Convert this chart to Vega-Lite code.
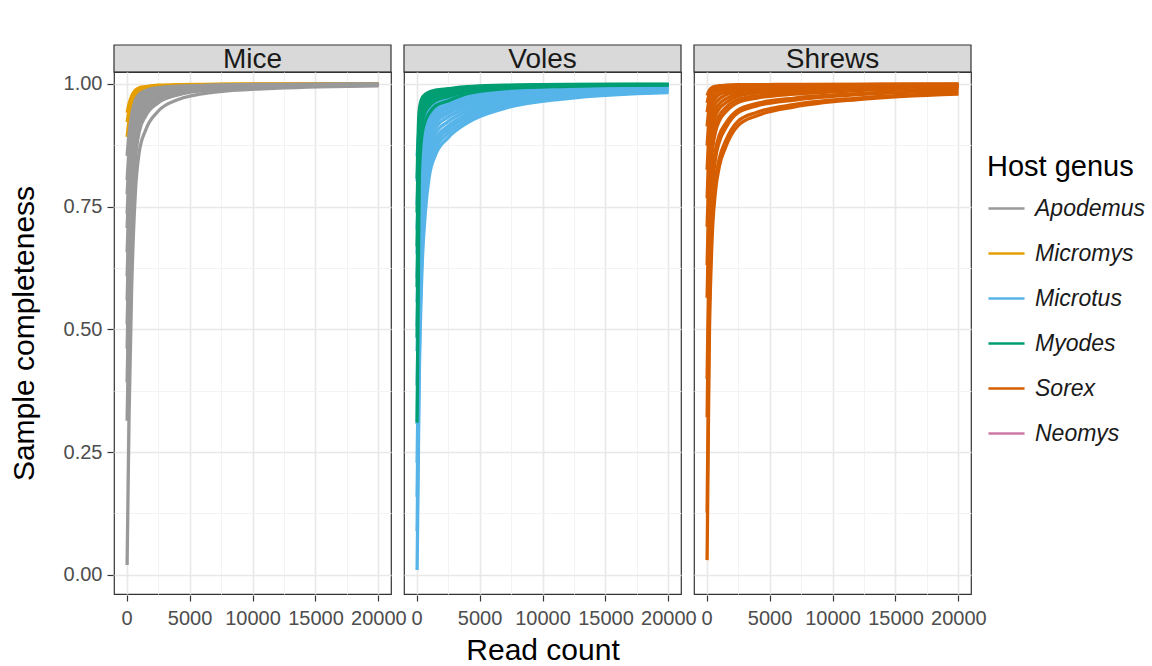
{
"$schema": "https://vega.github.io/schema/vega-lite/v6.json",
"background": "white",
"padding": {"left": 9, "top": 44, "right": 5, "bottom": 5},
"bounds": "flush",
"spacing": 27,
"config": {"font": "Liberation Sans", "view": {"stroke": "#333333", "strokeWidth": 1.2}},
"datasets": {
"strips": [{"panel": "Mice"}, {"panel": "Voles"}, {"panel": "Shrews"}],
"curves": [
{"panel":"Mice","genus":"Micromys","id":"M1","reads":40,"compl":0.892},{"panel":"Mice","genus":"Micromys","id":"M1","reads":200,"compl":0.926},{"panel":"Mice","genus":"Micromys","id":"M1","reads":400,"compl":0.954},{"panel":"Mice","genus":"Micromys","id":"M1","reads":700,"compl":0.976},{"panel":"Mice","genus":"Micromys","id":"M1","reads":1000,"compl":0.985},{"panel":"Mice","genus":"Micromys","id":"M1","reads":1500,"compl":0.990},{"panel":"Mice","genus":"Micromys","id":"M1","reads":2500,"compl":0.994},{"panel":"Mice","genus":"Micromys","id":"M1","reads":4000,"compl":0.996},{"panel":"Mice","genus":"Micromys","id":"M1","reads":7000,"compl":0.998},{"panel":"Mice","genus":"Micromys","id":"M1","reads":12000,"compl":0.999},{"panel":"Mice","genus":"Micromys","id":"M1","reads":20000,"compl":1.0},
{"panel":"Mice","genus":"Micromys","id":"M2","reads":40,"compl":0.922},{"panel":"Mice","genus":"Micromys","id":"M2","reads":200,"compl":0.946},{"panel":"Mice","genus":"Micromys","id":"M2","reads":400,"compl":0.966},{"panel":"Mice","genus":"Micromys","id":"M2","reads":700,"compl":0.982},{"panel":"Mice","genus":"Micromys","id":"M2","reads":1000,"compl":0.989},{"panel":"Mice","genus":"Micromys","id":"M2","reads":1500,"compl":0.992},{"panel":"Mice","genus":"Micromys","id":"M2","reads":2500,"compl":0.996},{"panel":"Mice","genus":"Micromys","id":"M2","reads":4000,"compl":0.997},{"panel":"Mice","genus":"Micromys","id":"M2","reads":7000,"compl":0.999},{"panel":"Mice","genus":"Micromys","id":"M2","reads":12000,"compl":0.999},{"panel":"Mice","genus":"Micromys","id":"M2","reads":20000,"compl":1.0},
{"panel":"Mice","genus":"Micromys","id":"M3","reads":40,"compl":0.941},{"panel":"Mice","genus":"Micromys","id":"M3","reads":200,"compl":0.960},{"panel":"Mice","genus":"Micromys","id":"M3","reads":400,"compl":0.975},{"panel":"Mice","genus":"Micromys","id":"M3","reads":700,"compl":0.987},{"panel":"Mice","genus":"Micromys","id":"M3","reads":1000,"compl":0.992},{"panel":"Mice","genus":"Micromys","id":"M3","reads":1500,"compl":0.994},{"panel":"Mice","genus":"Micromys","id":"M3","reads":2500,"compl":0.997},{"panel":"Mice","genus":"Micromys","id":"M3","reads":4000,"compl":0.998},{"panel":"Mice","genus":"Micromys","id":"M3","reads":7000,"compl":0.999},{"panel":"Mice","genus":"Micromys","id":"M3","reads":12000,"compl":1.0},{"panel":"Mice","genus":"Micromys","id":"M3","reads":20000,"compl":1.0},
{"panel":"Mice","genus":"Apodemus","id":"A1","reads":40,"compl":0.02},{"panel":"Mice","genus":"Apodemus","id":"A1","reads":200,"compl":0.33},{"panel":"Mice","genus":"Apodemus","id":"A1","reads":400,"compl":0.58},{"panel":"Mice","genus":"Apodemus","id":"A1","reads":700,"compl":0.78},{"panel":"Mice","genus":"Apodemus","id":"A1","reads":1000,"compl":0.86},{"panel":"Mice","genus":"Apodemus","id":"A1","reads":1500,"compl":0.905},{"panel":"Mice","genus":"Apodemus","id":"A1","reads":2500,"compl":0.944},{"panel":"Mice","genus":"Apodemus","id":"A1","reads":4000,"compl":0.967},{"panel":"Mice","genus":"Apodemus","id":"A1","reads":7000,"compl":0.983},{"panel":"Mice","genus":"Apodemus","id":"A1","reads":12000,"compl":0.991},{"panel":"Mice","genus":"Apodemus","id":"A1","reads":20000,"compl":0.996},
{"panel":"Mice","genus":"Apodemus","id":"A2","reads":40,"compl":0.314},{"panel":"Mice","genus":"Apodemus","id":"A2","reads":200,"compl":0.531},{"panel":"Mice","genus":"Apodemus","id":"A2","reads":400,"compl":0.706},{"panel":"Mice","genus":"Apodemus","id":"A2","reads":700,"compl":0.846},{"panel":"Mice","genus":"Apodemus","id":"A2","reads":1000,"compl":0.902},{"panel":"Mice","genus":"Apodemus","id":"A2","reads":1500,"compl":0.934},{"panel":"Mice","genus":"Apodemus","id":"A2","reads":2500,"compl":0.961},{"panel":"Mice","genus":"Apodemus","id":"A2","reads":4000,"compl":0.977},{"panel":"Mice","genus":"Apodemus","id":"A2","reads":7000,"compl":0.988},{"panel":"Mice","genus":"Apodemus","id":"A2","reads":12000,"compl":0.994},{"panel":"Mice","genus":"Apodemus","id":"A2","reads":20000,"compl":0.997},
{"panel":"Mice","genus":"Apodemus","id":"A9","reads":40,"compl":0.392},{"panel":"Mice","genus":"Apodemus","id":"A9","reads":200,"compl":0.585},{"panel":"Mice","genus":"Apodemus","id":"A9","reads":400,"compl":0.740},{"panel":"Mice","genus":"Apodemus","id":"A9","reads":700,"compl":0.864},{"panel":"Mice","genus":"Apodemus","id":"A9","reads":1000,"compl":0.913},{"panel":"Mice","genus":"Apodemus","id":"A9","reads":1500,"compl":0.941},{"panel":"Mice","genus":"Apodemus","id":"A9","reads":2500,"compl":0.965},{"panel":"Mice","genus":"Apodemus","id":"A9","reads":4000,"compl":0.980},{"panel":"Mice","genus":"Apodemus","id":"A9","reads":7000,"compl":0.989},{"panel":"Mice","genus":"Apodemus","id":"A9","reads":12000,"compl":0.994},{"panel":"Mice","genus":"Apodemus","id":"A9","reads":20000,"compl":0.998},
{"panel":"Mice","genus":"Apodemus","id":"A3","reads":40,"compl":0.461},{"panel":"Mice","genus":"Apodemus","id":"A3","reads":200,"compl":0.632},{"panel":"Mice","genus":"Apodemus","id":"A3","reads":400,"compl":0.769},{"panel":"Mice","genus":"Apodemus","id":"A3","reads":700,"compl":0.879},{"panel":"Mice","genus":"Apodemus","id":"A3","reads":1000,"compl":0.923},{"panel":"Mice","genus":"Apodemus","id":"A3","reads":1500,"compl":0.948},{"panel":"Mice","genus":"Apodemus","id":"A3","reads":2500,"compl":0.969},{"panel":"Mice","genus":"Apodemus","id":"A3","reads":4000,"compl":0.982},{"panel":"Mice","genus":"Apodemus","id":"A3","reads":7000,"compl":0.991},{"panel":"Mice","genus":"Apodemus","id":"A3","reads":12000,"compl":0.995},{"panel":"Mice","genus":"Apodemus","id":"A3","reads":20000,"compl":0.998},
{"panel":"Mice","genus":"Apodemus","id":"A11","reads":40,"compl":0.51},{"panel":"Mice","genus":"Apodemus","id":"A11","reads":200,"compl":0.665},{"panel":"Mice","genus":"Apodemus","id":"A11","reads":400,"compl":0.79},{"panel":"Mice","genus":"Apodemus","id":"A11","reads":700,"compl":0.89},{"panel":"Mice","genus":"Apodemus","id":"A11","reads":1000,"compl":0.93},{"panel":"Mice","genus":"Apodemus","id":"A11","reads":1500,"compl":0.953},{"panel":"Mice","genus":"Apodemus","id":"A11","reads":2500,"compl":0.972},{"panel":"Mice","genus":"Apodemus","id":"A11","reads":4000,"compl":0.984},{"panel":"Mice","genus":"Apodemus","id":"A11","reads":7000,"compl":0.992},{"panel":"Mice","genus":"Apodemus","id":"A11","reads":12000,"compl":0.996},{"panel":"Mice","genus":"Apodemus","id":"A11","reads":20000,"compl":0.998},
{"panel":"Mice","genus":"Apodemus","id":"A4","reads":40,"compl":0.559},{"panel":"Mice","genus":"Apodemus","id":"A4","reads":200,"compl":0.699},{"panel":"Mice","genus":"Apodemus","id":"A4","reads":400,"compl":0.811},{"panel":"Mice","genus":"Apodemus","id":"A4","reads":700,"compl":0.901},{"panel":"Mice","genus":"Apodemus","id":"A4","reads":1000,"compl":0.937},{"panel":"Mice","genus":"Apodemus","id":"A4","reads":1500,"compl":0.957},{"panel":"Mice","genus":"Apodemus","id":"A4","reads":2500,"compl":0.975},{"panel":"Mice","genus":"Apodemus","id":"A4","reads":4000,"compl":0.985},{"panel":"Mice","genus":"Apodemus","id":"A4","reads":7000,"compl":0.992},{"panel":"Mice","genus":"Apodemus","id":"A4","reads":12000,"compl":0.996},{"panel":"Mice","genus":"Apodemus","id":"A4","reads":20000,"compl":0.998},
{"panel":"Mice","genus":"Apodemus","id":"A10","reads":40,"compl":0.608},{"panel":"Mice","genus":"Apodemus","id":"A10","reads":200,"compl":0.732},{"panel":"Mice","genus":"Apodemus","id":"A10","reads":400,"compl":0.832},{"panel":"Mice","genus":"Apodemus","id":"A10","reads":700,"compl":0.912},{"panel":"Mice","genus":"Apodemus","id":"A10","reads":1000,"compl":0.944},{"panel":"Mice","genus":"Apodemus","id":"A10","reads":1500,"compl":0.962},{"panel":"Mice","genus":"Apodemus","id":"A10","reads":2500,"compl":0.978},{"panel":"Mice","genus":"Apodemus","id":"A10","reads":4000,"compl":0.987},{"panel":"Mice","genus":"Apodemus","id":"A10","reads":7000,"compl":0.993},{"panel":"Mice","genus":"Apodemus","id":"A10","reads":12000,"compl":0.996},{"panel":"Mice","genus":"Apodemus","id":"A10","reads":20000,"compl":0.998},
{"panel":"Mice","genus":"Apodemus","id":"A5","reads":40,"compl":0.657},{"panel":"Mice","genus":"Apodemus","id":"A5","reads":200,"compl":0.766},{"panel":"Mice","genus":"Apodemus","id":"A5","reads":400,"compl":0.853},{"panel":"Mice","genus":"Apodemus","id":"A5","reads":700,"compl":0.923},{"panel":"Mice","genus":"Apodemus","id":"A5","reads":1000,"compl":0.951},{"panel":"Mice","genus":"Apodemus","id":"A5","reads":1500,"compl":0.967},{"panel":"Mice","genus":"Apodemus","id":"A5","reads":2500,"compl":0.980},{"panel":"Mice","genus":"Apodemus","id":"A5","reads":4000,"compl":0.988},{"panel":"Mice","genus":"Apodemus","id":"A5","reads":7000,"compl":0.994},{"panel":"Mice","genus":"Apodemus","id":"A5","reads":12000,"compl":0.997},{"panel":"Mice","genus":"Apodemus","id":"A5","reads":20000,"compl":0.999},
{"panel":"Mice","genus":"Apodemus","id":"A13","reads":40,"compl":0.706},{"panel":"Mice","genus":"Apodemus","id":"A13","reads":200,"compl":0.799},{"panel":"Mice","genus":"Apodemus","id":"A13","reads":400,"compl":0.874},{"panel":"Mice","genus":"Apodemus","id":"A13","reads":700,"compl":0.934},{"panel":"Mice","genus":"Apodemus","id":"A13","reads":1000,"compl":0.958},{"panel":"Mice","genus":"Apodemus","id":"A13","reads":1500,"compl":0.972},{"panel":"Mice","genus":"Apodemus","id":"A13","reads":2500,"compl":0.983},{"panel":"Mice","genus":"Apodemus","id":"A13","reads":4000,"compl":0.990},{"panel":"Mice","genus":"Apodemus","id":"A13","reads":7000,"compl":0.995},{"panel":"Mice","genus":"Apodemus","id":"A13","reads":12000,"compl":0.997},{"panel":"Mice","genus":"Apodemus","id":"A13","reads":20000,"compl":0.999},
{"panel":"Mice","genus":"Apodemus","id":"A6","reads":40,"compl":0.735},{"panel":"Mice","genus":"Apodemus","id":"A6","reads":200,"compl":0.819},{"panel":"Mice","genus":"Apodemus","id":"A6","reads":400,"compl":0.887},{"panel":"Mice","genus":"Apodemus","id":"A6","reads":700,"compl":0.941},{"panel":"Mice","genus":"Apodemus","id":"A6","reads":1000,"compl":0.962},{"panel":"Mice","genus":"Apodemus","id":"A6","reads":1500,"compl":0.974},{"panel":"Mice","genus":"Apodemus","id":"A6","reads":2500,"compl":0.985},{"panel":"Mice","genus":"Apodemus","id":"A6","reads":4000,"compl":0.991},{"panel":"Mice","genus":"Apodemus","id":"A6","reads":7000,"compl":0.995},{"panel":"Mice","genus":"Apodemus","id":"A6","reads":12000,"compl":0.998},{"panel":"Mice","genus":"Apodemus","id":"A6","reads":20000,"compl":0.999},
{"panel":"Mice","genus":"Apodemus","id":"A12","reads":40,"compl":0.775},{"panel":"Mice","genus":"Apodemus","id":"A12","reads":200,"compl":0.846},{"panel":"Mice","genus":"Apodemus","id":"A12","reads":400,"compl":0.903},{"panel":"Mice","genus":"Apodemus","id":"A12","reads":700,"compl":0.949},{"panel":"Mice","genus":"Apodemus","id":"A12","reads":1000,"compl":0.968},{"panel":"Mice","genus":"Apodemus","id":"A12","reads":1500,"compl":0.978},{"panel":"Mice","genus":"Apodemus","id":"A12","reads":2500,"compl":0.987},{"panel":"Mice","genus":"Apodemus","id":"A12","reads":4000,"compl":0.992},{"panel":"Mice","genus":"Apodemus","id":"A12","reads":7000,"compl":0.996},{"panel":"Mice","genus":"Apodemus","id":"A12","reads":12000,"compl":0.998},{"panel":"Mice","genus":"Apodemus","id":"A12","reads":20000,"compl":0.999},
{"panel":"Mice","genus":"Apodemus","id":"A7","reads":40,"compl":0.804},{"panel":"Mice","genus":"Apodemus","id":"A7","reads":200,"compl":0.866},{"panel":"Mice","genus":"Apodemus","id":"A7","reads":400,"compl":0.916},{"panel":"Mice","genus":"Apodemus","id":"A7","reads":700,"compl":0.956},{"panel":"Mice","genus":"Apodemus","id":"A7","reads":1000,"compl":0.972},{"panel":"Mice","genus":"Apodemus","id":"A7","reads":1500,"compl":0.981},{"panel":"Mice","genus":"Apodemus","id":"A7","reads":2500,"compl":0.989},{"panel":"Mice","genus":"Apodemus","id":"A7","reads":4000,"compl":0.993},{"panel":"Mice","genus":"Apodemus","id":"A7","reads":7000,"compl":0.997},{"panel":"Mice","genus":"Apodemus","id":"A7","reads":12000,"compl":0.998},{"panel":"Mice","genus":"Apodemus","id":"A7","reads":20000,"compl":0.999},
{"panel":"Mice","genus":"Apodemus","id":"A8","reads":40,"compl":0.853},{"panel":"Mice","genus":"Apodemus","id":"A8","reads":200,"compl":0.900},{"panel":"Mice","genus":"Apodemus","id":"A8","reads":400,"compl":0.937},{"panel":"Mice","genus":"Apodemus","id":"A8","reads":700,"compl":0.967},{"panel":"Mice","genus":"Apodemus","id":"A8","reads":1000,"compl":0.979},{"panel":"Mice","genus":"Apodemus","id":"A8","reads":1500,"compl":0.986},{"panel":"Mice","genus":"Apodemus","id":"A8","reads":2500,"compl":0.992},{"panel":"Mice","genus":"Apodemus","id":"A8","reads":4000,"compl":0.995},{"panel":"Mice","genus":"Apodemus","id":"A8","reads":7000,"compl":0.997},{"panel":"Mice","genus":"Apodemus","id":"A8","reads":12000,"compl":0.999},{"panel":"Mice","genus":"Apodemus","id":"A8","reads":20000,"compl":0.999},
{"panel":"Voles","genus":"Microtus","id":"U1","reads":40,"compl":0.01},{"panel":"Voles","genus":"Microtus","id":"U1","reads":200,"compl":0.38},{"panel":"Voles","genus":"Microtus","id":"U1","reads":400,"compl":0.60},{"panel":"Voles","genus":"Microtus","id":"U1","reads":700,"compl":0.74},{"panel":"Voles","genus":"Microtus","id":"U1","reads":1000,"compl":0.81},{"panel":"Voles","genus":"Microtus","id":"U1","reads":1500,"compl":0.855},{"panel":"Voles","genus":"Microtus","id":"U1","reads":2500,"compl":0.89},{"panel":"Voles","genus":"Microtus","id":"U1","reads":4000,"compl":0.92},{"panel":"Voles","genus":"Microtus","id":"U1","reads":7000,"compl":0.95},{"panel":"Voles","genus":"Microtus","id":"U1","reads":12000,"compl":0.97},{"panel":"Voles","genus":"Microtus","id":"U1","reads":20000,"compl":0.982},
{"panel":"Voles","genus":"Microtus","id":"U9","reads":40,"compl":0.089},{"panel":"Voles","genus":"Microtus","id":"U9","reads":200,"compl":0.430},{"panel":"Voles","genus":"Microtus","id":"U9","reads":400,"compl":0.632},{"panel":"Voles","genus":"Microtus","id":"U9","reads":700,"compl":0.761},{"panel":"Voles","genus":"Microtus","id":"U9","reads":1000,"compl":0.825},{"panel":"Voles","genus":"Microtus","id":"U9","reads":1500,"compl":0.867},{"panel":"Voles","genus":"Microtus","id":"U9","reads":2500,"compl":0.899},{"panel":"Voles","genus":"Microtus","id":"U9","reads":4000,"compl":0.926},{"panel":"Voles","genus":"Microtus","id":"U9","reads":7000,"compl":0.954},{"panel":"Voles","genus":"Microtus","id":"U9","reads":12000,"compl":0.972},{"panel":"Voles","genus":"Microtus","id":"U9","reads":20000,"compl":0.983},
{"panel":"Voles","genus":"Microtus","id":"U2","reads":40,"compl":0.159},{"panel":"Voles","genus":"Microtus","id":"U2","reads":200,"compl":0.473},{"panel":"Voles","genus":"Microtus","id":"U2","reads":400,"compl":0.66},{"panel":"Voles","genus":"Microtus","id":"U2","reads":700,"compl":0.779},{"panel":"Voles","genus":"Microtus","id":"U2","reads":1000,"compl":0.839},{"panel":"Voles","genus":"Microtus","id":"U2","reads":1500,"compl":0.877},{"panel":"Voles","genus":"Microtus","id":"U2","reads":2500,"compl":0.907},{"panel":"Voles","genus":"Microtus","id":"U2","reads":4000,"compl":0.932},{"panel":"Voles","genus":"Microtus","id":"U2","reads":7000,"compl":0.958},{"panel":"Voles","genus":"Microtus","id":"U2","reads":12000,"compl":0.975},{"panel":"Voles","genus":"Microtus","id":"U2","reads":20000,"compl":0.985},
{"panel":"Voles","genus":"Microtus","id":"U11","reads":40,"compl":0.228},{"panel":"Voles","genus":"Microtus","id":"U11","reads":200,"compl":0.516},{"panel":"Voles","genus":"Microtus","id":"U11","reads":400,"compl":0.688},{"panel":"Voles","genus":"Microtus","id":"U11","reads":700,"compl":0.797},{"panel":"Voles","genus":"Microtus","id":"U11","reads":1000,"compl":0.852},{"panel":"Voles","genus":"Microtus","id":"U11","reads":1500,"compl":0.887},{"panel":"Voles","genus":"Microtus","id":"U11","reads":2500,"compl":0.914},{"panel":"Voles","genus":"Microtus","id":"U11","reads":4000,"compl":0.938},{"panel":"Voles","genus":"Microtus","id":"U11","reads":7000,"compl":0.961},{"panel":"Voles","genus":"Microtus","id":"U11","reads":12000,"compl":0.977},{"panel":"Voles","genus":"Microtus","id":"U11","reads":20000,"compl":0.986},
{"panel":"Voles","genus":"Microtus","id":"U3","reads":40,"compl":0.307},{"panel":"Voles","genus":"Microtus","id":"U3","reads":200,"compl":0.566},{"panel":"Voles","genus":"Microtus","id":"U3","reads":400,"compl":0.72},{"panel":"Voles","genus":"Microtus","id":"U3","reads":700,"compl":0.818},{"panel":"Voles","genus":"Microtus","id":"U3","reads":1000,"compl":0.867},{"panel":"Voles","genus":"Microtus","id":"U3","reads":1500,"compl":0.899},{"panel":"Voles","genus":"Microtus","id":"U3","reads":2500,"compl":0.923},{"panel":"Voles","genus":"Microtus","id":"U3","reads":4000,"compl":0.944},{"panel":"Voles","genus":"Microtus","id":"U3","reads":7000,"compl":0.965},{"panel":"Voles","genus":"Microtus","id":"U3","reads":12000,"compl":0.979},{"panel":"Voles","genus":"Microtus","id":"U3","reads":20000,"compl":0.987},
{"panel":"Voles","genus":"Microtus","id":"U10","reads":40,"compl":0.386},{"panel":"Voles","genus":"Microtus","id":"U10","reads":200,"compl":0.616},{"panel":"Voles","genus":"Microtus","id":"U10","reads":400,"compl":0.752},{"panel":"Voles","genus":"Microtus","id":"U10","reads":700,"compl":0.839},{"panel":"Voles","genus":"Microtus","id":"U10","reads":1000,"compl":0.882},{"panel":"Voles","genus":"Microtus","id":"U10","reads":1500,"compl":0.910},{"panel":"Voles","genus":"Microtus","id":"U10","reads":2500,"compl":0.932},{"panel":"Voles","genus":"Microtus","id":"U10","reads":4000,"compl":0.950},{"panel":"Voles","genus":"Microtus","id":"U10","reads":7000,"compl":0.969},{"panel":"Voles","genus":"Microtus","id":"U10","reads":12000,"compl":0.981},{"panel":"Voles","genus":"Microtus","id":"U10","reads":20000,"compl":0.989},
{"panel":"Voles","genus":"Microtus","id":"U4","reads":40,"compl":0.456},{"panel":"Voles","genus":"Microtus","id":"U4","reads":200,"compl":0.659},{"panel":"Voles","genus":"Microtus","id":"U4","reads":400,"compl":0.78},{"panel":"Voles","genus":"Microtus","id":"U4","reads":700,"compl":0.857},{"panel":"Voles","genus":"Microtus","id":"U4","reads":1000,"compl":0.896},{"panel":"Voles","genus":"Microtus","id":"U4","reads":1500,"compl":0.920},{"panel":"Voles","genus":"Microtus","id":"U4","reads":2500,"compl":0.940},{"panel":"Voles","genus":"Microtus","id":"U4","reads":4000,"compl":0.956},{"panel":"Voles","genus":"Microtus","id":"U4","reads":7000,"compl":0.973},{"panel":"Voles","genus":"Microtus","id":"U4","reads":12000,"compl":0.984},{"panel":"Voles","genus":"Microtus","id":"U4","reads":20000,"compl":0.990},
{"panel":"Voles","genus":"Microtus","id":"U12","reads":40,"compl":0.505},{"panel":"Voles","genus":"Microtus","id":"U12","reads":200,"compl":0.69},{"panel":"Voles","genus":"Microtus","id":"U12","reads":400,"compl":0.80},{"panel":"Voles","genus":"Microtus","id":"U12","reads":700,"compl":0.87},{"panel":"Voles","genus":"Microtus","id":"U12","reads":1000,"compl":0.905},{"panel":"Voles","genus":"Microtus","id":"U12","reads":1500,"compl":0.928},{"panel":"Voles","genus":"Microtus","id":"U12","reads":2500,"compl":0.945},{"panel":"Voles","genus":"Microtus","id":"U12","reads":4000,"compl":0.96},{"panel":"Voles","genus":"Microtus","id":"U12","reads":7000,"compl":0.975},{"panel":"Voles","genus":"Microtus","id":"U12","reads":12000,"compl":0.985},{"panel":"Voles","genus":"Microtus","id":"U12","reads":20000,"compl":0.991},
{"panel":"Voles","genus":"Microtus","id":"U5","reads":40,"compl":0.555},{"panel":"Voles","genus":"Microtus","id":"U5","reads":200,"compl":0.721},{"panel":"Voles","genus":"Microtus","id":"U5","reads":400,"compl":0.82},{"panel":"Voles","genus":"Microtus","id":"U5","reads":700,"compl":0.883},{"panel":"Voles","genus":"Microtus","id":"U5","reads":1000,"compl":0.915},{"panel":"Voles","genus":"Microtus","id":"U5","reads":1500,"compl":0.935},{"panel":"Voles","genus":"Microtus","id":"U5","reads":2500,"compl":0.951},{"panel":"Voles","genus":"Microtus","id":"U5","reads":4000,"compl":0.964},{"panel":"Voles","genus":"Microtus","id":"U5","reads":7000,"compl":0.978},{"panel":"Voles","genus":"Microtus","id":"U5","reads":12000,"compl":0.987},{"panel":"Voles","genus":"Microtus","id":"U5","reads":20000,"compl":0.992},
{"panel":"Voles","genus":"Microtus","id":"U13","reads":40,"compl":0.604},{"panel":"Voles","genus":"Microtus","id":"U13","reads":200,"compl":0.752},{"panel":"Voles","genus":"Microtus","id":"U13","reads":400,"compl":0.84},{"panel":"Voles","genus":"Microtus","id":"U13","reads":700,"compl":0.896},{"panel":"Voles","genus":"Microtus","id":"U13","reads":1000,"compl":0.924},{"panel":"Voles","genus":"Microtus","id":"U13","reads":1500,"compl":0.942},{"panel":"Voles","genus":"Microtus","id":"U13","reads":2500,"compl":0.956},{"panel":"Voles","genus":"Microtus","id":"U13","reads":4000,"compl":0.968},{"panel":"Voles","genus":"Microtus","id":"U13","reads":7000,"compl":0.98},{"panel":"Voles","genus":"Microtus","id":"U13","reads":12000,"compl":0.988},{"panel":"Voles","genus":"Microtus","id":"U13","reads":20000,"compl":0.993},
{"panel":"Voles","genus":"Microtus","id":"U6","reads":40,"compl":0.654},{"panel":"Voles","genus":"Microtus","id":"U6","reads":200,"compl":0.783},{"panel":"Voles","genus":"Microtus","id":"U6","reads":400,"compl":0.86},{"panel":"Voles","genus":"Microtus","id":"U6","reads":700,"compl":0.909},{"panel":"Voles","genus":"Microtus","id":"U6","reads":1000,"compl":0.934},{"panel":"Voles","genus":"Microtus","id":"U6","reads":1500,"compl":0.949},{"panel":"Voles","genus":"Microtus","id":"U6","reads":2500,"compl":0.962},{"panel":"Voles","genus":"Microtus","id":"U6","reads":4000,"compl":0.972},{"panel":"Voles","genus":"Microtus","id":"U6","reads":7000,"compl":0.983},{"panel":"Voles","genus":"Microtus","id":"U6","reads":12000,"compl":0.990},{"panel":"Voles","genus":"Microtus","id":"U6","reads":20000,"compl":0.994},
{"panel":"Voles","genus":"Microtus","id":"U14","reads":40,"compl":0.703},{"panel":"Voles","genus":"Microtus","id":"U14","reads":200,"compl":0.814},{"panel":"Voles","genus":"Microtus","id":"U14","reads":400,"compl":0.88},{"panel":"Voles","genus":"Microtus","id":"U14","reads":700,"compl":0.922},{"panel":"Voles","genus":"Microtus","id":"U14","reads":1000,"compl":0.943},{"panel":"Voles","genus":"Microtus","id":"U14","reads":1500,"compl":0.957},{"panel":"Voles","genus":"Microtus","id":"U14","reads":2500,"compl":0.967},{"panel":"Voles","genus":"Microtus","id":"U14","reads":4000,"compl":0.976},{"panel":"Voles","genus":"Microtus","id":"U14","reads":7000,"compl":0.985},{"panel":"Voles","genus":"Microtus","id":"U14","reads":12000,"compl":0.991},{"panel":"Voles","genus":"Microtus","id":"U14","reads":20000,"compl":0.995},
{"panel":"Voles","genus":"Microtus","id":"U7","reads":40,"compl":0.753},{"panel":"Voles","genus":"Microtus","id":"U7","reads":200,"compl":0.845},{"panel":"Voles","genus":"Microtus","id":"U7","reads":400,"compl":0.90},{"panel":"Voles","genus":"Microtus","id":"U7","reads":700,"compl":0.935},{"panel":"Voles","genus":"Microtus","id":"U7","reads":1000,"compl":0.953},{"panel":"Voles","genus":"Microtus","id":"U7","reads":1500,"compl":0.964},{"panel":"Voles","genus":"Microtus","id":"U7","reads":2500,"compl":0.973},{"panel":"Voles","genus":"Microtus","id":"U7","reads":4000,"compl":0.98},{"panel":"Voles","genus":"Microtus","id":"U7","reads":7000,"compl":0.988},{"panel":"Voles","genus":"Microtus","id":"U7","reads":12000,"compl":0.993},{"panel":"Voles","genus":"Microtus","id":"U7","reads":20000,"compl":0.996},
{"panel":"Voles","genus":"Microtus","id":"U15","reads":40,"compl":0.802},{"panel":"Voles","genus":"Microtus","id":"U15","reads":200,"compl":0.876},{"panel":"Voles","genus":"Microtus","id":"U15","reads":400,"compl":0.92},{"panel":"Voles","genus":"Microtus","id":"U15","reads":700,"compl":0.948},{"panel":"Voles","genus":"Microtus","id":"U15","reads":1000,"compl":0.962},{"panel":"Voles","genus":"Microtus","id":"U15","reads":1500,"compl":0.971},{"panel":"Voles","genus":"Microtus","id":"U15","reads":2500,"compl":0.978},{"panel":"Voles","genus":"Microtus","id":"U15","reads":4000,"compl":0.984},{"panel":"Voles","genus":"Microtus","id":"U15","reads":7000,"compl":0.99},{"panel":"Voles","genus":"Microtus","id":"U15","reads":12000,"compl":0.994},{"panel":"Voles","genus":"Microtus","id":"U15","reads":20000,"compl":0.996},
{"panel":"Voles","genus":"Microtus","id":"U8","reads":40,"compl":0.852},{"panel":"Voles","genus":"Microtus","id":"U8","reads":200,"compl":0.907},{"panel":"Voles","genus":"Microtus","id":"U8","reads":400,"compl":0.94},{"panel":"Voles","genus":"Microtus","id":"U8","reads":700,"compl":0.961},{"panel":"Voles","genus":"Microtus","id":"U8","reads":1000,"compl":0.972},{"panel":"Voles","genus":"Microtus","id":"U8","reads":1500,"compl":0.978},{"panel":"Voles","genus":"Microtus","id":"U8","reads":2500,"compl":0.984},{"panel":"Voles","genus":"Microtus","id":"U8","reads":4000,"compl":0.988},{"panel":"Voles","genus":"Microtus","id":"U8","reads":7000,"compl":0.993},{"panel":"Voles","genus":"Microtus","id":"U8","reads":12000,"compl":0.996},{"panel":"Voles","genus":"Microtus","id":"U8","reads":20000,"compl":0.997},
{"panel":"Voles","genus":"Myodes","id":"Y1","reads":40,"compl":0.31},{"panel":"Voles","genus":"Myodes","id":"Y1","reads":200,"compl":0.80},{"panel":"Voles","genus":"Myodes","id":"Y1","reads":400,"compl":0.89},{"panel":"Voles","genus":"Myodes","id":"Y1","reads":700,"compl":0.925},{"panel":"Voles","genus":"Myodes","id":"Y1","reads":1000,"compl":0.94},{"panel":"Voles","genus":"Myodes","id":"Y1","reads":1500,"compl":0.955},{"panel":"Voles","genus":"Myodes","id":"Y1","reads":2500,"compl":0.965},{"panel":"Voles","genus":"Myodes","id":"Y1","reads":4000,"compl":0.98},{"panel":"Voles","genus":"Myodes","id":"Y1","reads":7000,"compl":0.99},{"panel":"Voles","genus":"Myodes","id":"Y1","reads":12000,"compl":0.995},{"panel":"Voles","genus":"Myodes","id":"Y1","reads":20000,"compl":0.998},
{"panel":"Voles","genus":"Myodes","id":"Y2","reads":40,"compl":0.483},{"panel":"Voles","genus":"Myodes","id":"Y2","reads":200,"compl":0.85},{"panel":"Voles","genus":"Myodes","id":"Y2","reads":400,"compl":0.918},{"panel":"Voles","genus":"Myodes","id":"Y2","reads":700,"compl":0.944},{"panel":"Voles","genus":"Myodes","id":"Y2","reads":1000,"compl":0.955},{"panel":"Voles","genus":"Myodes","id":"Y2","reads":1500,"compl":0.966},{"panel":"Voles","genus":"Myodes","id":"Y2","reads":2500,"compl":0.974},{"panel":"Voles","genus":"Myodes","id":"Y2","reads":4000,"compl":0.985},{"panel":"Voles","genus":"Myodes","id":"Y2","reads":7000,"compl":0.993},{"panel":"Voles","genus":"Myodes","id":"Y2","reads":12000,"compl":0.996},{"panel":"Voles","genus":"Myodes","id":"Y2","reads":20000,"compl":0.998},
{"panel":"Voles","genus":"Myodes","id":"Y3","reads":40,"compl":0.586},{"panel":"Voles","genus":"Myodes","id":"Y3","reads":200,"compl":0.88},{"panel":"Voles","genus":"Myodes","id":"Y3","reads":400,"compl":0.934},{"panel":"Voles","genus":"Myodes","id":"Y3","reads":700,"compl":0.955},{"panel":"Voles","genus":"Myodes","id":"Y3","reads":1000,"compl":0.964},{"panel":"Voles","genus":"Myodes","id":"Y3","reads":1500,"compl":0.973},{"panel":"Voles","genus":"Myodes","id":"Y3","reads":2500,"compl":0.979},{"panel":"Voles","genus":"Myodes","id":"Y3","reads":4000,"compl":0.988},{"panel":"Voles","genus":"Myodes","id":"Y3","reads":7000,"compl":0.994},{"panel":"Voles","genus":"Myodes","id":"Y3","reads":12000,"compl":0.997},{"panel":"Voles","genus":"Myodes","id":"Y3","reads":20000,"compl":0.998},
{"panel":"Voles","genus":"Myodes","id":"Y4","reads":40,"compl":0.669},{"panel":"Voles","genus":"Myodes","id":"Y4","reads":200,"compl":0.904},{"panel":"Voles","genus":"Myodes","id":"Y4","reads":400,"compl":0.947},{"panel":"Voles","genus":"Myodes","id":"Y4","reads":700,"compl":0.964},{"panel":"Voles","genus":"Myodes","id":"Y4","reads":1000,"compl":0.971},{"panel":"Voles","genus":"Myodes","id":"Y4","reads":1500,"compl":0.978},{"panel":"Voles","genus":"Myodes","id":"Y4","reads":2500,"compl":0.983},{"panel":"Voles","genus":"Myodes","id":"Y4","reads":4000,"compl":0.990},{"panel":"Voles","genus":"Myodes","id":"Y4","reads":7000,"compl":0.995},{"panel":"Voles","genus":"Myodes","id":"Y4","reads":12000,"compl":0.998},{"panel":"Voles","genus":"Myodes","id":"Y4","reads":20000,"compl":0.999},
{"panel":"Voles","genus":"Myodes","id":"Y5","reads":40,"compl":0.738},{"panel":"Voles","genus":"Myodes","id":"Y5","reads":200,"compl":0.924},{"panel":"Voles","genus":"Myodes","id":"Y5","reads":400,"compl":0.958},{"panel":"Voles","genus":"Myodes","id":"Y5","reads":700,"compl":0.972},{"panel":"Voles","genus":"Myodes","id":"Y5","reads":1000,"compl":0.977},{"panel":"Voles","genus":"Myodes","id":"Y5","reads":1500,"compl":0.983},{"panel":"Voles","genus":"Myodes","id":"Y5","reads":2500,"compl":0.987},{"panel":"Voles","genus":"Myodes","id":"Y5","reads":4000,"compl":0.992},{"panel":"Voles","genus":"Myodes","id":"Y5","reads":7000,"compl":0.996},{"panel":"Voles","genus":"Myodes","id":"Y5","reads":12000,"compl":0.998},{"panel":"Voles","genus":"Myodes","id":"Y5","reads":20000,"compl":0.999},
{"panel":"Voles","genus":"Myodes","id":"Y6","reads":40,"compl":0.807},{"panel":"Voles","genus":"Myodes","id":"Y6","reads":200,"compl":0.944},{"panel":"Voles","genus":"Myodes","id":"Y6","reads":400,"compl":0.969},{"panel":"Voles","genus":"Myodes","id":"Y6","reads":700,"compl":0.979},{"panel":"Voles","genus":"Myodes","id":"Y6","reads":1000,"compl":0.983},{"panel":"Voles","genus":"Myodes","id":"Y6","reads":1500,"compl":0.987},{"panel":"Voles","genus":"Myodes","id":"Y6","reads":2500,"compl":0.990},{"panel":"Voles","genus":"Myodes","id":"Y6","reads":4000,"compl":0.994},{"panel":"Voles","genus":"Myodes","id":"Y6","reads":7000,"compl":0.997},{"panel":"Voles","genus":"Myodes","id":"Y6","reads":12000,"compl":0.999},{"panel":"Voles","genus":"Myodes","id":"Y6","reads":20000,"compl":0.999},
{"panel":"Shrews","genus":"Sorex","id":"S1","reads":40,"compl":0.03},{"panel":"Shrews","genus":"Sorex","id":"S1","reads":200,"compl":0.45},{"panel":"Shrews","genus":"Sorex","id":"S1","reads":400,"compl":0.66},{"panel":"Shrews","genus":"Sorex","id":"S1","reads":700,"compl":0.78},{"panel":"Shrews","genus":"Sorex","id":"S1","reads":1000,"compl":0.83},{"panel":"Shrews","genus":"Sorex","id":"S1","reads":1500,"compl":0.87},{"panel":"Shrews","genus":"Sorex","id":"S1","reads":2500,"compl":0.915},{"panel":"Shrews","genus":"Sorex","id":"S1","reads":4000,"compl":0.935},{"panel":"Shrews","genus":"Sorex","id":"S1","reads":7000,"compl":0.953},{"panel":"Shrews","genus":"Sorex","id":"S1","reads":12000,"compl":0.968},{"panel":"Shrews","genus":"Sorex","id":"S1","reads":20000,"compl":0.979},
{"panel":"Shrews","genus":"Sorex","id":"S2","reads":40,"compl":0.127},{"panel":"Shrews","genus":"Sorex","id":"S2","reads":200,"compl":0.505},{"panel":"Shrews","genus":"Sorex","id":"S2","reads":400,"compl":0.694},{"panel":"Shrews","genus":"Sorex","id":"S2","reads":700,"compl":0.802},{"panel":"Shrews","genus":"Sorex","id":"S2","reads":1000,"compl":0.847},{"panel":"Shrews","genus":"Sorex","id":"S2","reads":1500,"compl":0.883},{"panel":"Shrews","genus":"Sorex","id":"S2","reads":2500,"compl":0.924},{"panel":"Shrews","genus":"Sorex","id":"S2","reads":4000,"compl":0.942},{"panel":"Shrews","genus":"Sorex","id":"S2","reads":7000,"compl":0.958},{"panel":"Shrews","genus":"Sorex","id":"S2","reads":12000,"compl":0.971},{"panel":"Shrews","genus":"Sorex","id":"S2","reads":20000,"compl":0.981},
{"panel":"Shrews","genus":"Sorex","id":"S3","reads":40,"compl":0.321},{"panel":"Shrews","genus":"Sorex","id":"S3","reads":200,"compl":0.615},{"panel":"Shrews","genus":"Sorex","id":"S3","reads":400,"compl":0.762},{"panel":"Shrews","genus":"Sorex","id":"S3","reads":700,"compl":0.846},{"panel":"Shrews","genus":"Sorex","id":"S3","reads":1000,"compl":0.881},{"panel":"Shrews","genus":"Sorex","id":"S3","reads":1500,"compl":0.909},{"panel":"Shrews","genus":"Sorex","id":"S3","reads":2500,"compl":0.941},{"panel":"Shrews","genus":"Sorex","id":"S3","reads":4000,"compl":0.955},{"panel":"Shrews","genus":"Sorex","id":"S3","reads":7000,"compl":0.967},{"panel":"Shrews","genus":"Sorex","id":"S3","reads":12000,"compl":0.978},{"panel":"Shrews","genus":"Sorex","id":"S3","reads":20000,"compl":0.985},
{"panel":"Shrews","genus":"Sorex","id":"S4","reads":40,"compl":0.399},{"panel":"Shrews","genus":"Sorex","id":"S4","reads":200,"compl":0.659},{"panel":"Shrews","genus":"Sorex","id":"S4","reads":400,"compl":0.789},{"panel":"Shrews","genus":"Sorex","id":"S4","reads":700,"compl":0.864},{"panel":"Shrews","genus":"Sorex","id":"S4","reads":1000,"compl":0.895},{"panel":"Shrews","genus":"Sorex","id":"S4","reads":1500,"compl":0.919},{"panel":"Shrews","genus":"Sorex","id":"S4","reads":2500,"compl":0.947},{"panel":"Shrews","genus":"Sorex","id":"S4","reads":4000,"compl":0.960},{"panel":"Shrews","genus":"Sorex","id":"S4","reads":7000,"compl":0.971},{"panel":"Shrews","genus":"Sorex","id":"S4","reads":12000,"compl":0.980},{"panel":"Shrews","genus":"Sorex","id":"S4","reads":20000,"compl":0.987},
{"panel":"Shrews","genus":"Sorex","id":"S5","reads":40,"compl":0.564},{"panel":"Shrews","genus":"Sorex","id":"S5","reads":200,"compl":0.753},{"panel":"Shrews","genus":"Sorex","id":"S5","reads":400,"compl":0.847},{"panel":"Shrews","genus":"Sorex","id":"S5","reads":700,"compl":0.901},{"panel":"Shrews","genus":"Sorex","id":"S5","reads":1000,"compl":0.924},{"panel":"Shrews","genus":"Sorex","id":"S5","reads":1500,"compl":0.942},{"panel":"Shrews","genus":"Sorex","id":"S5","reads":2500,"compl":0.962},{"panel":"Shrews","genus":"Sorex","id":"S5","reads":4000,"compl":0.971},{"panel":"Shrews","genus":"Sorex","id":"S5","reads":7000,"compl":0.979},{"panel":"Shrews","genus":"Sorex","id":"S5","reads":12000,"compl":0.986},{"panel":"Shrews","genus":"Sorex","id":"S5","reads":20000,"compl":0.991},
{"panel":"Shrews","genus":"Sorex","id":"S6","reads":40,"compl":0.631},{"panel":"Shrews","genus":"Sorex","id":"S6","reads":200,"compl":0.791},{"panel":"Shrews","genus":"Sorex","id":"S6","reads":400,"compl":0.871},{"panel":"Shrews","genus":"Sorex","id":"S6","reads":700,"compl":0.916},{"panel":"Shrews","genus":"Sorex","id":"S6","reads":1000,"compl":0.935},{"panel":"Shrews","genus":"Sorex","id":"S6","reads":1500,"compl":0.951},{"panel":"Shrews","genus":"Sorex","id":"S6","reads":2500,"compl":0.968},{"panel":"Shrews","genus":"Sorex","id":"S6","reads":4000,"compl":0.975},{"panel":"Shrews","genus":"Sorex","id":"S6","reads":7000,"compl":0.982},{"panel":"Shrews","genus":"Sorex","id":"S6","reads":12000,"compl":0.988},{"panel":"Shrews","genus":"Sorex","id":"S6","reads":20000,"compl":0.992},
{"panel":"Shrews","genus":"Sorex","id":"S7","reads":40,"compl":0.709},{"panel":"Shrews","genus":"Sorex","id":"S7","reads":200,"compl":0.835},{"panel":"Shrews","genus":"Sorex","id":"S7","reads":400,"compl":0.898},{"panel":"Shrews","genus":"Sorex","id":"S7","reads":700,"compl":0.934},{"panel":"Shrews","genus":"Sorex","id":"S7","reads":1000,"compl":0.949},{"panel":"Shrews","genus":"Sorex","id":"S7","reads":1500,"compl":0.961},{"panel":"Shrews","genus":"Sorex","id":"S7","reads":2500,"compl":0.975},{"panel":"Shrews","genus":"Sorex","id":"S7","reads":4000,"compl":0.981},{"panel":"Shrews","genus":"Sorex","id":"S7","reads":7000,"compl":0.986},{"panel":"Shrews","genus":"Sorex","id":"S7","reads":12000,"compl":0.990},{"panel":"Shrews","genus":"Sorex","id":"S7","reads":20000,"compl":0.994},
{"panel":"Shrews","genus":"Sorex","id":"S8","reads":40,"compl":0.767},{"panel":"Shrews","genus":"Sorex","id":"S8","reads":200,"compl":0.868},{"panel":"Shrews","genus":"Sorex","id":"S8","reads":400,"compl":0.918},{"panel":"Shrews","genus":"Sorex","id":"S8","reads":700,"compl":0.947},{"panel":"Shrews","genus":"Sorex","id":"S8","reads":1000,"compl":0.959},{"panel":"Shrews","genus":"Sorex","id":"S8","reads":1500,"compl":0.969},{"panel":"Shrews","genus":"Sorex","id":"S8","reads":2500,"compl":0.980},{"panel":"Shrews","genus":"Sorex","id":"S8","reads":4000,"compl":0.984},{"panel":"Shrews","genus":"Sorex","id":"S8","reads":7000,"compl":0.989},{"panel":"Shrews","genus":"Sorex","id":"S8","reads":12000,"compl":0.992},{"panel":"Shrews","genus":"Sorex","id":"S8","reads":20000,"compl":0.995},
{"panel":"Shrews","genus":"Sorex","id":"S9","reads":40,"compl":0.825},{"panel":"Shrews","genus":"Sorex","id":"S9","reads":200,"compl":0.901},{"panel":"Shrews","genus":"Sorex","id":"S9","reads":400,"compl":0.939},{"panel":"Shrews","genus":"Sorex","id":"S9","reads":700,"compl":0.960},{"panel":"Shrews","genus":"Sorex","id":"S9","reads":1000,"compl":0.969},{"panel":"Shrews","genus":"Sorex","id":"S9","reads":1500,"compl":0.977},{"panel":"Shrews","genus":"Sorex","id":"S9","reads":2500,"compl":0.985},{"panel":"Shrews","genus":"Sorex","id":"S9","reads":4000,"compl":0.988},{"panel":"Shrews","genus":"Sorex","id":"S9","reads":7000,"compl":0.992},{"panel":"Shrews","genus":"Sorex","id":"S9","reads":12000,"compl":0.994},{"panel":"Shrews","genus":"Sorex","id":"S9","reads":20000,"compl":0.996},
{"panel":"Shrews","genus":"Sorex","id":"S10","reads":40,"compl":0.874},{"panel":"Shrews","genus":"Sorex","id":"S10","reads":200,"compl":0.929},{"panel":"Shrews","genus":"Sorex","id":"S10","reads":400,"compl":0.956},{"panel":"Shrews","genus":"Sorex","id":"S10","reads":700,"compl":0.971},{"panel":"Shrews","genus":"Sorex","id":"S10","reads":1000,"compl":0.978},{"panel":"Shrews","genus":"Sorex","id":"S10","reads":1500,"compl":0.983},{"panel":"Shrews","genus":"Sorex","id":"S10","reads":2500,"compl":0.989},{"panel":"Shrews","genus":"Sorex","id":"S10","reads":4000,"compl":0.992},{"panel":"Shrews","genus":"Sorex","id":"S10","reads":7000,"compl":0.994},{"panel":"Shrews","genus":"Sorex","id":"S10","reads":12000,"compl":0.996},{"panel":"Shrews","genus":"Sorex","id":"S10","reads":20000,"compl":0.997},
{"panel":"Shrews","genus":"Sorex","id":"S11","reads":40,"compl":0.913},{"panel":"Shrews","genus":"Sorex","id":"S11","reads":200,"compl":0.951},{"panel":"Shrews","genus":"Sorex","id":"S11","reads":400,"compl":0.969},{"panel":"Shrews","genus":"Sorex","id":"S11","reads":700,"compl":0.980},{"panel":"Shrews","genus":"Sorex","id":"S11","reads":1000,"compl":0.985},{"panel":"Shrews","genus":"Sorex","id":"S11","reads":1500,"compl":0.988},{"panel":"Shrews","genus":"Sorex","id":"S11","reads":2500,"compl":0.992},{"panel":"Shrews","genus":"Sorex","id":"S11","reads":4000,"compl":0.994},{"panel":"Shrews","genus":"Sorex","id":"S11","reads":7000,"compl":0.996},{"panel":"Shrews","genus":"Sorex","id":"S11","reads":12000,"compl":0.997},{"panel":"Shrews","genus":"Sorex","id":"S11","reads":20000,"compl":0.998},
{"panel":"Shrews","genus":"Sorex","id":"S12","reads":40,"compl":0.942},{"panel":"Shrews","genus":"Sorex","id":"S12","reads":200,"compl":0.967},{"panel":"Shrews","genus":"Sorex","id":"S12","reads":400,"compl":0.980},{"panel":"Shrews","genus":"Sorex","id":"S12","reads":700,"compl":0.987},{"panel":"Shrews","genus":"Sorex","id":"S12","reads":1000,"compl":0.990},{"panel":"Shrews","genus":"Sorex","id":"S12","reads":1500,"compl":0.992},{"panel":"Shrews","genus":"Sorex","id":"S12","reads":2500,"compl":0.995},{"panel":"Shrews","genus":"Sorex","id":"S12","reads":4000,"compl":0.996},{"panel":"Shrews","genus":"Sorex","id":"S12","reads":7000,"compl":0.997},{"panel":"Shrews","genus":"Sorex","id":"S12","reads":12000,"compl":0.998},{"panel":"Shrews","genus":"Sorex","id":"S12","reads":20000,"compl":0.999},
{"panel":"Shrews","genus":"Sorex","id":"S13","reads":40,"compl":0.961},{"panel":"Shrews","genus":"Sorex","id":"S13","reads":200,"compl":0.978},{"panel":"Shrews","genus":"Sorex","id":"S13","reads":400,"compl":0.986},{"panel":"Shrews","genus":"Sorex","id":"S13","reads":700,"compl":0.991},{"panel":"Shrews","genus":"Sorex","id":"S13","reads":1000,"compl":0.993},{"panel":"Shrews","genus":"Sorex","id":"S13","reads":1500,"compl":0.995},{"panel":"Shrews","genus":"Sorex","id":"S13","reads":2500,"compl":0.997},{"panel":"Shrews","genus":"Sorex","id":"S13","reads":4000,"compl":0.997},{"panel":"Shrews","genus":"Sorex","id":"S13","reads":7000,"compl":0.998},{"panel":"Shrews","genus":"Sorex","id":"S13","reads":12000,"compl":0.999},{"panel":"Shrews","genus":"Sorex","id":"S13","reads":20000,"compl":0.999},
{"panel":"Shrews","genus":"Sorex","id":"S14","reads":40,"compl":0.976},{"panel":"Shrews","genus":"Sorex","id":"S14","reads":200,"compl":0.986},{"panel":"Shrews","genus":"Sorex","id":"S14","reads":400,"compl":0.992},{"panel":"Shrews","genus":"Sorex","id":"S14","reads":700,"compl":0.995},{"panel":"Shrews","genus":"Sorex","id":"S14","reads":1000,"compl":0.996},{"panel":"Shrews","genus":"Sorex","id":"S14","reads":1500,"compl":0.997},{"panel":"Shrews","genus":"Sorex","id":"S14","reads":2500,"compl":0.998},{"panel":"Shrews","genus":"Sorex","id":"S14","reads":4000,"compl":0.998},{"panel":"Shrews","genus":"Sorex","id":"S14","reads":7000,"compl":0.999},{"panel":"Shrews","genus":"Sorex","id":"S14","reads":12000,"compl":0.999},{"panel":"Shrews","genus":"Sorex","id":"S14","reads":20000,"compl":1.0}
]
},
"vconcat": [
{
"data": {"name": "strips"},
"spacing": 11,
"facet": {"column": {"field": "panel", "type": "nominal", "sort": ["Mice", "Voles", "Shrews"], "header": null}},
"spec": {
"width": 277, "height": 27,
"layer": [
{"mark": {"type": "rect", "fill": "#d9d9d9", "stroke": "#333333", "strokeWidth": 1.2}, "encoding": {}},
{"mark": {"type": "text", "fontSize": 28, "color": "#1a1a1a", "align": "center", "baseline": "middle", "dy": 1}, "encoding": {"text": {"field": "panel", "type": "nominal"}}}
]
}
},
{
"data": {"name": "curves"},
"spacing": 11,
"facet": {"column": {"field": "panel", "type": "nominal", "sort": ["Mice", "Voles", "Shrews"], "title": "Read count",
"header": {"labels": false, "titleOrient": "bottom", "titleFontSize": 30, "titleFontWeight": "normal", "titleColor": "black", "titlePadding": -2}}},
"spec": {
"width": 277, "height": 522,
"mark": {"type": "line", "strokeWidth": 3.3, "interpolate": "monotone", "clip": true},
"encoding": {
"x": {"field": "reads", "type": "quantitative", "scale": {"domain": [-1000, 21000], "nice": false, "zero": false},
"axis": {"title": null, "values": [0, 2500, 5000, 7500, 10000, 12500, 15000, 17500, 20000], "format": "d",
"labelExpr": "datum.value % 5000 === 0 ? datum.label : ''", "labelFontSize": 20, "labelColor": "#4d4d4d", "labelPadding": 7, "labelOverlap": false, "labelFlush": false,
"domain": false, "tickSize": 6, "tickWidth": 1.2,
"tickColor": {"condition": {"test": "datum.value % 5000 !== 0", "value": "transparent"}, "value": "#333333"},
"gridColor": {"condition": {"test": "datum.value % 5000 !== 0", "value": "#f3f3f3"}, "value": "#e8e8e8"},
"gridWidth": {"condition": {"test": "datum.value % 5000 !== 0", "value": 1}, "value": 1.6}}},
"y": {"field": "compl", "type": "quantitative", "scale": {"domain": [-0.039, 1.024], "nice": false, "zero": false},
"axis": {"title": "Sample completeness", "titleFontSize": 30, "titleFontWeight": "normal", "titleColor": "black", "titlePadding": 24,
"values": [0, 0.125, 0.25, 0.375, 0.5, 0.625, 0.75, 0.875, 1],
"labelExpr": "round(datum.value * 1000) % 250 === 0 ? format(datum.value, '.2f') : ''", "labelFontSize": 20, "labelColor": "#4d4d4d", "labelPadding": 5, "labelOverlap": false,
"domain": false, "tickSize": 6, "tickWidth": 1.2,
"tickColor": {"condition": {"test": "round(datum.value * 1000) % 250 !== 0", "value": "transparent"}, "value": "#333333"},
"gridColor": {"condition": {"test": "round(datum.value * 1000) % 250 !== 0", "value": "#f3f3f3"}, "value": "#e8e8e8"},
"gridWidth": {"condition": {"test": "round(datum.value * 1000) % 250 !== 0", "value": 1}, "value": 1.6}}},
"color": {"field": "genus", "type": "nominal",
"scale": {"domain": ["Apodemus", "Micromys", "Microtus", "Myodes", "Sorex", "Neomys"], "range": ["#999999", "#E69F00", "#56B4E9", "#009E73", "#D55E00", "#CC79A7"]},
"legend": {"title": "Host genus", "orient": "none", "legendX": 873, "legendY": 108, "padding": 0,
"titleFontSize": 29, "titleFontWeight": "normal", "titleColor": "black", "titlePadding": 7,
"labelFontSize": 23, "labelFontStyle": "italic", "labelColor": "#1a1a1a", "labelOffset": 9,
"symbolType": "stroke", "symbolSize": 1300, "symbolStrokeWidth": 2.5, "rowPadding": 13}},
"detail": {"field": "id", "type": "nominal"}
}
}
}
]
}
